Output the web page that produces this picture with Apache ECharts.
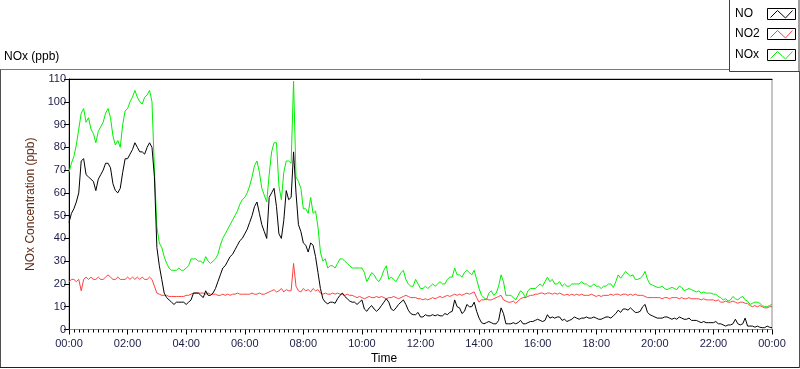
<!DOCTYPE html>
<html>
<head>
<meta charset="utf-8">
<script src="https://cdn.jsdelivr.net/npm/echarts@6/dist/echarts.min.js"></script>
<style>
html,body{margin:0;padding:0;background:#fff;}
#chart{width:800px;height:369px;}
</style>
</head>
<body>
<div id="chart"></div>
<script>
// sampling step of the series (minutes)
const STEP_MIN = 5;
const tickLabels = ['00:00','02:00','04:00','06:00','08:00','10:00','12:00','14:00','16:00','18:00','20:00','22:00','00:00'];
const seriesNames = ['NO', 'NO2', 'NOx'];

const noValues = [
 47,51,53,56,60,74,75,68,67,66,65,61,
 66,68,70,73,73,71,64,61,60,62,69,75,
 75,77,79,82,80,78,78,77,80,82,80,67,
 36,28,22,16,14,13,12,11,12,12,12,12,
 11,12,13,16,16,16,15,14,17,15,15,16,
 18,21,24,27,28,30,32,33,35,37,39,40,
 42,44,47,50,54,56,51,46,43,40,58,60,
 62,54,42,40,48,61,57,58,78,60,46,43,
 38,37,34,38,37,32,25,18,13.5,12,11.3,12,
 12,11.5,13.5,15,16,14.5,13.5,12.5,12,12,11,12,
 13,9,8,9.5,10.5,9,8,9,10.5,12,13.5,12,
 9,8.3,9.5,11,12,13,11,8.5,7,6.5,6.5,7.5,
 5.5,5.5,6.5,6,6,6.5,6,6.5,6,6,7,6.5,
 7.5,8,13,10,9.5,7,8,11,10,10,12,8,
 5,3,2.5,3,3.5,3,2.5,2.5,4,9.5,7,2.5,
 2.5,2.5,3,2.5,3,4,2.5,2.5,3,3.5,3.5,4,
 4.5,4,3.5,4,6.5,5,5.5,5,5.5,5.5,4,4.5,
 3.5,4,4.5,5.5,5,4.5,5,5,5.5,5,5,5.5,
 5,4.5,4.5,5,5.5,5.5,5,6,7,8.5,7.5,9,
 9,8.5,9.5,8.5,7.5,7.5,8,10,11,7.5,6.5,6,
 5.5,5,5,5,5.5,5.5,5,4.5,5,4.5,5.5,5,
 4.5,4.5,5,4,4,4,3.5,3,3.5,3,3,3,
 3,3.5,2.5,2.5,2,1.5,2,2,2.5,4.5,2.5,2,
 2.5,5,1.5,1.5,1.5,1,1.5,1,0.8,0.8,1.5,1,
 0.8
];

const no2Values = [
 21,22,22,21,22,17,22,23,22,23,22,22,
 23,22,22,23,24,23,22,22,23,22,22,22,
 23,22,23,22,23,22,23,22,22,23,22,19,
 16,15.5,15,15,15,14.5,14.5,14.5,14.5,14.5,14.5,14.5,
 15,15,15.5,16,16,16,16,16,15.5,16,15.5,15.5,
 15.5,15,15,15.5,15,15.5,15,15.5,15.5,16,15.5,15.5,
 15.5,15.5,15.5,16,15.5,15.5,16,15.5,15.5,16,16.5,17,
 17.5,16.5,17,18,16.5,17.5,17,17,29,19,17,16.5,
 18,17,17.5,16.5,18,17,17.5,16,15.5,16,15.5,15.5,
 16,15.5,16,15.5,15.5,15,15.5,15,15,14.5,14,14.5,
 14,13.5,14,14.5,14,14,14.5,14,14.5,14,13.5,14,
 14,14.5,14,13.5,14,14.5,15,14.5,14,14,14,13.5,
 13.5,13,13.5,13,13.5,14,13.5,14,14.5,14,14.5,15,
 14.5,15,15.5,15,15.5,15,15.5,16,15.5,16,16.5,14,
 12,13,13,13.5,13,13,13.5,14,14.5,15,13,12.5,
 12,12,12.5,11.5,12.5,13.5,14,14,14.5,15,15,15.5,
 15.5,16,16,15.5,16,16,15.5,16,15.5,16,15.5,15,
 15.5,15,15.5,15,15.5,15,15.5,15,15,15,15.5,15,
 14.5,15,14.5,15,15,15,15.5,15,15.5,15.5,15,15.5,
 15.5,15,15.5,15,15.5,15,15,15,14.5,14,14,14,
 14,14,14,13.5,14,14,13.5,14,14,14,13.5,14,
 13.5,13.5,14,13.5,13.5,13.5,13.5,13,13.5,13,13,13,
 13,12.5,13,12,12,12.5,12,12,12.5,12,11.5,12,
 12,11.5,11.5,10.5,10,10.5,10,10.5,10,9.5,9.5,10,
 10
];

const noxValues = [
 69,73,76,81,88,95,97,91,93,88,86,82,
 87,89,91,95,97,93,85,81,83,80,90,96,
 97,100,102,105,102,100,99,102,103,105,100,70,
 45,38,36,32,29,27,26,26,26,27,26,26,
 27,28,31,31,31,30,30,29,32,30,29,30,
 31,33,37,40,42,44,46,48,50,52,55,57,
 58,60,63,67,72,74,69,62,59,56,68,78,
 82,82,63,57,69,74,74,73,109,67,65,62,
 53,53,51,58,51,52,45,34,30,31,27,28,
 28,27,29,31,31,30,29,28,27,27,27,27,
 27,25,21,23,25,24,22,21,23,26,28,22,
 23,22,21,23,25,26,22,20,19,19,22,20,
 18,18,19,18,19,20,19,20,21,20,20,22,
 23,23,27,24,24,23,25,26,25,24,26,22,
 18,15,14,13,16,17,15,16,19,24,21,15,
 15,15,14,13,15,17,16,14,17,18,18,18,
 19,20,19,21,23,21,22,20,20,21,19,20,
 19,19,20,20,20,20,21,20,20,19,19,20,
 19,19,18,19,19,20,20,18.5,21,24,22.5,24,
 25.5,24.5,23.5,24,22,22,22.5,23.5,25.5,22,20,19.5,
 19,18.5,18.5,19,18,17.5,18,18.5,18,17.5,19,18.5,
 17,17.5,18,17.5,17,16.5,17,16,16.5,16,16,16,
 15.5,15.5,14.5,14,13,13.5,12.5,13,14.5,13.5,13,14,
 14.5,13,12.5,11,11.5,12,12,11.5,10.5,10,10,10.5,
 11
];

const colors = { NO: '#000000', NO2: '#ff4040', NOx: '#00f000' };
const FONT = 'Liberation Sans, Arial, sans-serif';
const LABEL_COLOR = '#1c1c48';

function toPairs(vals) { return vals.map((v, i) => [i * STEP_MIN, v]); }

const chart = echarts.init(document.getElementById('chart'), null, { renderer: 'canvas' });

function legendEntry(name, top, color) {
  const bx = 767.5, by = top + 0.5, bw = 28, bh = 11;
  return [
    { type: 'text', left: 735, top: top - 0.5, style: { text: name, font: '12px ' + FONT, fill: '#000' }, z: 20 },
    { type: 'rect', shape: { x: bx, y: by, width: bw, height: bh }, style: { fill: '#fff', stroke: '#000', lineWidth: 1 }, z: 20 },
    { type: 'polyline', shape: { points: [[bx + 3, by + bh - 2], [bx + 10, by + 2], [bx + 18, by + bh - 1.5], [bx + 25, by + 2]] }, style: { stroke: color, lineWidth: 1, fill: null }, z: 21 }
  ];
}

const option = {
  animation: false,
  backgroundColor: '#ffffff',
  grid: { left: 69, right: 28, top: 79, bottom: 39.5, show: true, borderColor: '#8c8c8c', borderWidth: 1, backgroundColor: '#ffffff' },
  xAxis: [{
    type: 'value', min: 0, max: 1440, interval: 120,
    axisLine: { show: true, lineStyle: { color: '#8c8c8c', width: 1 } },
    axisTick: { show: true, length: 5, inside: false, lineStyle: { color: '#000' } },
    minorTick: { show: true, splitNumber: 12, length: 3, lineStyle: { color: '#000' } },
    splitLine: { show: false },
    axisLabel: { margin: 9, fontFamily: FONT, fontSize: 11, color: LABEL_COLOR, formatter: v => tickLabels[Math.round(v / 120)] }
  }, {
    type: 'value', min: 0, max: 1440, position: 'top',
    axisLine: { show: true, lineStyle: { color: '#000', width: 1 } },
    axisTick: { show: false }, axisLabel: { show: false }, splitLine: { show: false }
  }],
  yAxis: {
    type: 'value', min: 0, max: 110, interval: 10,
    name: 'NOx Concentration (ppb)', nameLocation: 'middle', nameRotate: 90, nameGap: 30,
    nameTextStyle: { fontFamily: FONT, fontSize: 12, color: '#5e2a14' },
    axisLine: { show: true, lineStyle: { color: '#000', width: 1 } },
    axisTick: { show: true, length: 5, lineStyle: { color: '#000' } },
    splitLine: { show: false },
    axisLabel: { margin: 3, fontFamily: FONT, fontSize: 11, color: LABEL_COLOR }
  },
  series: [
    { name: 'NOx', type: 'line', data: toPairs(noxValues), showSymbol: false, symbol: 'none', lineStyle: { color: colors.NOx, width: 1 }, z: 2 },
    { name: 'NO2', type: 'line', data: toPairs(no2Values), showSymbol: false, symbol: 'none', lineStyle: { color: colors.NO2, width: 1 }, z: 3 },
    { name: 'NO', type: 'line', data: toPairs(noValues), showSymbol: false, symbol: 'none', lineStyle: { color: colors.NO, width: 1 }, z: 4 }
  ],
  graphic: [
    // outer panel frame
    { type: 'line', shape: { x1: 0, y1: 69.5, x2: 730, y2: 69.5 }, style: { stroke: '#7a7a7a', lineWidth: 1 }, z: 10 },
    { type: 'line', shape: { x1: 0.5, y1: 69.5, x2: 0.5, y2: 368 }, style: { stroke: '#505050', lineWidth: 1 }, z: 10 },
    { type: 'line', shape: { x1: 0, y1: 367.5, x2: 800, y2: 367.5 }, style: { stroke: '#202020', lineWidth: 1 }, z: 10 },
    { type: 'line', shape: { x1: 799.5, y1: 71, x2: 799.5, y2: 368 }, style: { stroke: '#505050', lineWidth: 1 }, z: 10 },
    // legend box
    { type: 'rect', shape: { x: 729.5, y: -1, width: 69.5, height: 72.5 }, style: { fill: '#fff', stroke: '#404040', lineWidth: 1 }, z: 15 },
    ...legendEntry(seriesNames[0], 8, colors.NO),
    ...legendEntry(seriesNames[1], 28, colors.NO2),
    ...legendEntry(seriesNames[2], 49, colors.NOx),
    // chart label and x-axis title
    { type: 'text', left: 4, top: 51, style: { text: 'NOx (ppb)', font: '12px ' + FONT, fill: '#000' }, z: 10 },
    { type: 'text', x: 384, y: 359, style: { text: 'Time', font: '12px ' + FONT, fill: '#000', textAlign: 'center', textVerticalAlign: 'middle' }, z: 10 }
  ]
};
chart.setOption(option);
</script>
</body>
</html>
